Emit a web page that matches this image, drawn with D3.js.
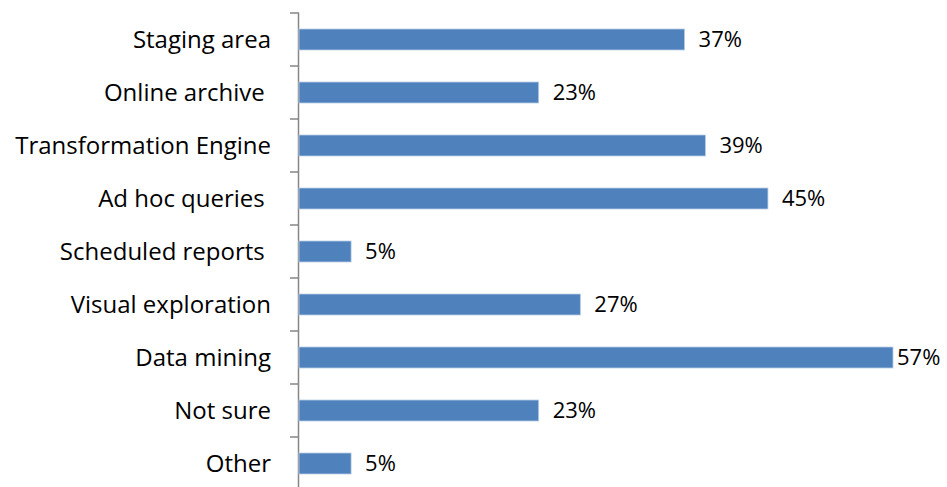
<!DOCTYPE html>
<html>
<head>
<meta charset="utf-8">
<script src="https://cdn.jsdelivr.net/npm/d3@7"></script>
<style>
  body { margin: 0; background: #fff; }
  text { font-family: "Open Sans", "Noto Sans", sans-serif; white-space: pre; }
</style>
</head>
<body>
<svg width="947" height="487"></svg>
<script>
var categories = ["Staging area", "Online archive ", "Transformation Engine", "Ad hoc queries ", "Scheduled reports ", "Visual exploration", "Data mining", "Not sure", "Other"];
var values = [37, 23, 39, 45, 5, 27, 57, 23, 5];

var svg = d3.select("svg"),
    axisX = 299,
    axisTop = 13;

var x = d3.scaleLinear().domain([0, 57]).range([axisX, 893]);
var band = d3.scaleBand().domain(categories).range([axisTop, 490]);

// axis line and tick marks
svg.append("line")
    .attr("x1", axisX - 0.5).attr("x2", axisX - 0.5)
    .attr("y1", axisTop).attr("y2", 487)
    .attr("stroke", "#868686").attr("stroke-width", 1.5);

svg.selectAll(".tick")
    .data(categories)
    .enter().append("line")
    .attr("x1", axisX - 9).attr("x2", axisX)
    .attr("y1", function (d) { return band(d); })
    .attr("y2", function (d) { return band(d); })
    .attr("stroke", "#868686").attr("stroke-width", 1.5);

svg.selectAll(".bar")
    .data(values)
    .enter().append("rect")
    .attr("x", axisX)
    .attr("y", function (d, i) { return band(categories[i]) + band.bandwidth() / 2 - 10.5; })
    .attr("width", function (d) { return x(d) - axisX; })
    .attr("height", 21)
    .attr("fill", "#4f81bd")
    .attr("stroke", "#b9cde5")
    .attr("stroke-width", 0.8);

svg.selectAll(".val")
    .data(values)
    .enter().append("text")
    .attr("x", function (d) { return Math.min(x(d) + 14, 897); })
    .attr("y", function (d, i) { return band(categories[i]) + band.bandwidth() / 2; })
    .attr("dy", "0.36em")
    .attr("font-size", 22)
    .attr("fill", "#000")
    .text(function (d) { return d + "%"; });

svg.selectAll(".cat")
    .data(categories)
    .enter().append("text")
    .attr("x", 271)
    .attr("y", function (d) { return band(d) + band.bandwidth() / 2; })
    .attr("dy", "0.36em")
    .attr("text-anchor", "end")
    .attr("font-size", 24)
    .attr("fill", "#000")
    .text(function (d) { return d; });
</script>
</body>
</html>
